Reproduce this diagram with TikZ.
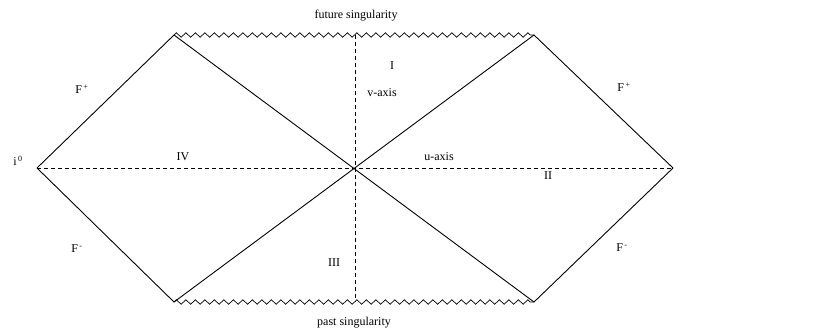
\documentclass[tikz,border=0pt]{standalone}
\usepackage{fontspec}
\setmainfont{Liberation Serif}
\usetikzlibrary{decorations.pathmorphing}
\begin{document}
\begin{tikzpicture}[x=1pt, y=-1pt,
  nullline/.style={line width=0.9pt},
  axisline/.style={line width=0.8pt, dash pattern=on 4pt off 3pt},
  singular/.style={line width=0.7pt, decorate,
                   decoration={zigzag, segment length=9.5pt, amplitude=2.3pt}},
  lbl/.style={font=\fontsize{12}{14}\selectfont, inner sep=1pt},
]
  \useasboundingbox (0,0) rectangle (822,333);

  % Corners
  \coordinate (iL) at (37,168);
  \coordinate (iR) at (673,168);
  \coordinate (tl) at (174,35);
  \coordinate (tr) at (534,35);
  \coordinate (bl) at (174,302);
  \coordinate (br) at (534,302);
  \coordinate (vtop) at (355,35);
  \coordinate (vbot) at (355,302);

  % Singularities
  \draw[singular] (tl) -- (tr);
  \draw[singular] (bl) -- (br);

  % Null lines
  \foreach \a/\b in {iL/tl, iL/bl, iR/tr, iR/br, tl/br, bl/tr}
    \draw[nullline] (\a) -- (\b);

  % Axes
  \draw[axisline] (iL) -- (iR);
  \draw[axisline] (vtop) -- (vbot);

  % Labels
  \node[lbl] (future) at (356,16) {future singularity};
  \node[lbl] (past) at (354,323) {past singularity};
  \node[lbl] (izero) at (18,161) {i\textsuperscript{\,0}};
  \node[lbl] (fpl) at (82,89) {F\textsuperscript{\,+}};
  \node[lbl] (fml) at (77,249) {F\textsuperscript{\,-}};
  \node[lbl] (fpr) at (624,87) {F\textsuperscript{\,+}};
  \node[lbl] (fmr) at (622,248) {F\textsuperscript{\,-}};
  \node[lbl] (regI) at (392,66) {I};
  \node[lbl] (vaxis) at (382,93) {v-axis};
  \node[lbl] (regIV) at (183,157) {IV};
  \node[lbl] (uaxis) at (439,157) {u-axis};
  \node[lbl] (regII) at (548,176) {II};
  \node[lbl] (regIII) at (334,263) {III};
\end{tikzpicture}
\end{document}
